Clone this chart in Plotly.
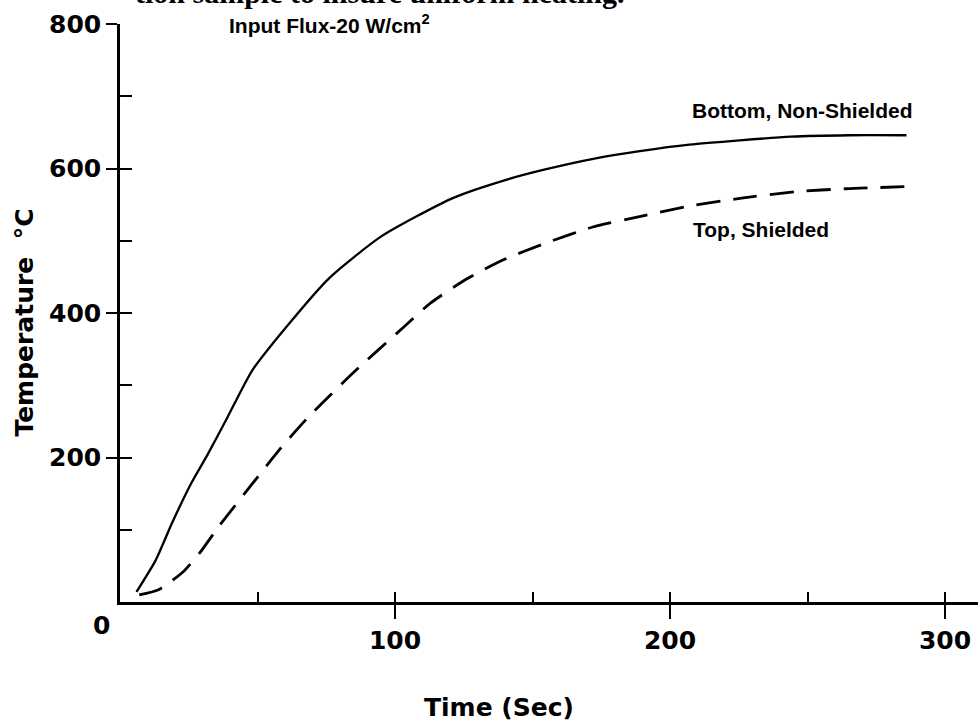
import plotly.graph_objects as go

# Heating curves at an input flux of 20 W/cm^2
time_bottom = [6, 13, 19, 26, 32, 39, 48, 61, 76, 95, 121, 141, 155, 173, 189, 207, 244, 265, 286]
temp_bottom = [14, 58, 110, 165, 205, 255, 320, 383, 448, 506, 559, 585, 599, 614, 624, 633, 644, 646, 646]

time_top = [7, 14, 23, 29, 36, 48, 58, 69, 85, 103, 113, 126, 139, 155, 172, 191, 207, 226, 246, 264, 287]
temp_top = [10, 17, 42, 68, 105, 163, 211, 258, 318, 380, 414, 447, 473, 497, 519, 535, 548, 559, 568, 572, 575]

x_major = [100, 200, 300]
x_major_text = ["100", "200", "300"]
x_all_ticks = [50, 100, 150, 200, 250, 300]
y_major = [200, 400, 600, 800]
y_major_text = ["200", "400", "600", "800"]
y_all_ticks = [100, 200, 300, 400, 500, 600, 700, 800]

x_range = [0, 312]
y_range = [0, 800]

bold_font = dict(family="DejaVu Sans", size=25, color="black", weight="bold")
label_font = dict(family="Liberation Sans", size=21, color="black", weight="bold")

fig = go.Figure()

fig.add_trace(go.Scatter(
    x=time_bottom, y=temp_bottom, mode="lines", name="Bottom, Non-Shielded",
    line=dict(color="black", width=2.3, shape="spline", smoothing=0.6),
))
fig.add_trace(go.Scatter(
    x=time_top, y=temp_top, mode="lines", name="Top, Shielded",
    line=dict(color="black", width=2.8, shape="spline", smoothing=0.6, dash="24px,13px"),
))
# empty trace so the overlay axes (inner tick marks) get drawn
fig.add_trace(go.Scatter(x=[None], y=[None], xaxis="x2", yaxis="y2",
                         showlegend=False, hoverinfo="skip"))

fig.update_layout(
    width=978, height=725,
    margin=dict(l=120, r=0, t=24, b=123),
    paper_bgcolor="white", plot_bgcolor="white",
    showlegend=False,
    xaxis=dict(
        range=x_range, tickmode="array", tickvals=x_major, ticktext=x_major_text,
        ticks="outside", ticklen=14, tickwidth=2, tickcolor="black",
        showline=True, linecolor="black", linewidth=2.5,
        showgrid=False, zeroline=False, tickfont=bold_font, ticklabelstandoff=0,
    ),
    yaxis=dict(
        range=y_range, tickmode="array", tickvals=y_major, ticktext=y_major_text,
        ticks="outside", ticklen=11, tickwidth=2, tickcolor="black",
        showline=True, linecolor="black", linewidth=2.5,
        showgrid=False, zeroline=False, tickfont=bold_font,
    ),
    xaxis2=dict(
        overlaying="x", anchor="y2", range=x_range, tickmode="array", tickvals=x_all_ticks,
        ticks="inside", ticklen=10, tickwidth=2, tickcolor="black",
        showticklabels=False, showline=False, showgrid=False, zeroline=False,
    ),
    yaxis2=dict(
        overlaying="y", anchor="x2", side="left", range=y_range, tickmode="array",
        tickvals=y_all_ticks, ticks="inside", ticklen=12, tickwidth=2, tickcolor="black",
        showticklabels=False, showline=False, showgrid=False, zeroline=False,
    ),
)

annotations = [
    dict(text="0", x=0, y=0, xref="x", yref="y", showarrow=False,
         xshift=-19, yshift=-23, font=bold_font),
    dict(text="Temperature  °C", x=-0.111, y=0.483, xref="paper", yref="paper",
         textangle=-90, showarrow=False, xanchor="center", yanchor="middle", font=bold_font),
    dict(text="Time (Sec)", x=0.4417, y=-0.183, xref="paper", yref="paper",
         showarrow=False, xanchor="center", yanchor="middle", font=bold_font),
    dict(text="Input Flux-20 W/cm<sup>2</sup>", x=0.1247, y=1.0, xref="paper", yref="paper",
         showarrow=False, xanchor="left", yanchor="middle",
         font=dict(family="Liberation Sans", size=21, color="black", weight="bold")),
    dict(text="Bottom, Non-Shielded", x=207.3, y=680, xref="x", yref="y",
         showarrow=False, xanchor="left", yanchor="middle", font=label_font),
    dict(text="Top, Shielded", x=207.6, y=515, xref="x", yref="y",
         showarrow=False, xanchor="left", yanchor="middle", font=label_font),
    # running text of the page above the figure
    dict(text="tion sample to insure uniform heating.", x=0.0152, y=1.0225,
         xref="paper", yref="paper", showarrow=False, xanchor="left", yanchor="bottom",
         font=dict(family="Liberation Serif", size=30, color="black", weight="bold")),
]
fig.update_layout(annotations=annotations)

fig.write_html("out.html")
